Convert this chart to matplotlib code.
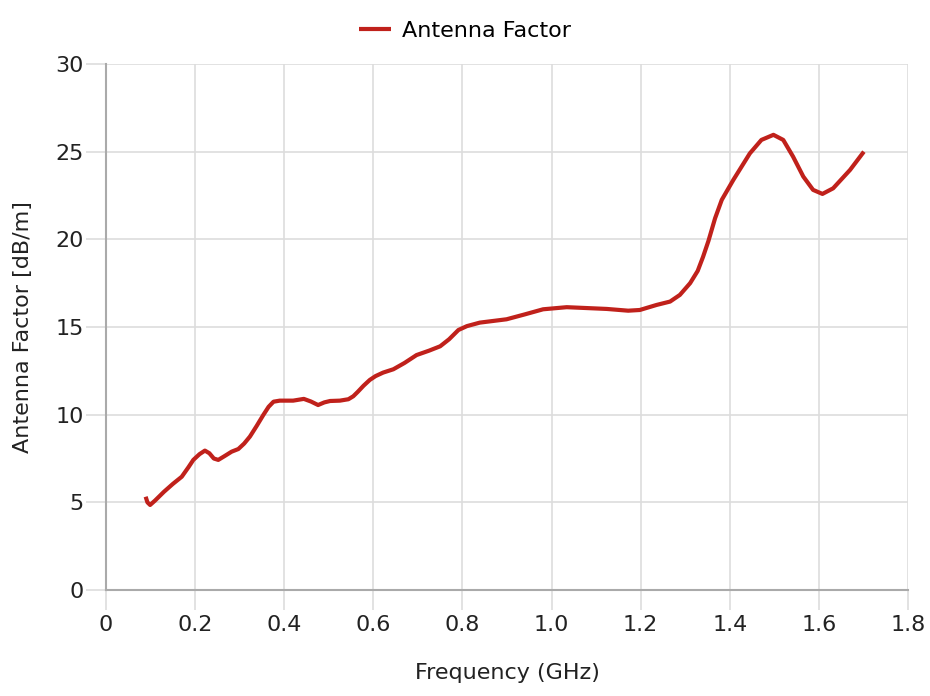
import numpy as np
import matplotlib.pyplot as plt

plt.rcParams['font.family'] = ['DejaVu Sans']

# frequency in GHz, antenna factor in dB/m
freq = [0.089, 0.093, 0.099, 0.11, 0.13, 0.15, 0.17, 0.185, 0.196, 0.21,
        0.222, 0.232, 0.242, 0.252, 0.265, 0.282, 0.297, 0.31, 0.323, 0.338,
        0.353, 0.365, 0.376, 0.39, 0.42, 0.444, 0.46, 0.476, 0.49, 0.503,
        0.525, 0.544, 0.555, 0.565, 0.578, 0.592, 0.605, 0.622, 0.645, 0.67,
        0.697, 0.725, 0.75, 0.77, 0.791, 0.81, 0.839, 0.899, 0.94, 0.981,
        1.034, 1.124, 1.172, 1.198, 1.236, 1.266, 1.288, 1.311, 1.328, 1.34,
        1.352, 1.367, 1.382, 1.408, 1.445, 1.471, 1.498, 1.52, 1.542, 1.565,
        1.587, 1.608, 1.632, 1.67, 1.701]
af = [5.32, 5.0, 4.85, 5.1, 5.6, 6.05, 6.46, 7.0, 7.42, 7.75,
      7.95, 7.8, 7.5, 7.42, 7.62, 7.89, 8.04, 8.35, 8.75, 9.35,
      9.98, 10.45, 10.74, 10.8, 10.80, 10.9, 10.75, 10.55, 10.7, 10.78,
      10.8, 10.88, 11.05, 11.3, 11.65, 11.98, 12.2, 12.4, 12.59, 12.95,
      13.4, 13.65, 13.9, 14.3, 14.83, 15.05, 15.25, 15.44, 15.72, 16.01,
      16.13, 16.03, 15.93, 15.97, 16.26, 16.45, 16.83, 17.5, 18.2, 19.0,
      19.9, 21.2, 22.25, 23.39, 24.9, 25.67, 25.96, 25.67, 24.72, 23.58,
      22.82, 22.59, 22.91, 23.96, 25.0]

xticks = [0, 0.2, 0.4, 0.6, 0.8, 1.0, 1.2, 1.4, 1.6, 1.8]
xticklabels = ['0', '0.2', '0.4', '0.6', '0.8', '1.0', '1.2', '1.4', '1.6', '1.8']
yticks = [0, 5, 10, 15, 20, 25, 30]

fig = plt.figure(figsize=(9.3, 6.96), dpi=100)
ax = fig.add_axes([106 / 930, 1 - 590 / 696, 802 / 930, 526 / 696])

ax.plot(freq, af, color='#c0211b', linewidth=3, label='Antenna Factor',
        solid_joinstyle='round', solid_capstyle='butt')

ax.set_xlim(0, 1.8)
ax.set_ylim(0, 30)
ax.set_xticks(xticks)
ax.set_xticklabels(xticklabels)
ax.set_yticks(yticks)

ax.grid(True, color='#dddddd', linewidth=1.2)
ax.set_axisbelow(True)
for s in ['top', 'right']:
    ax.spines[s].set_visible(False)
for s in ['left', 'bottom']:
    ax.spines[s].set_color('#aaaaaa')
    ax.spines[s].set_linewidth(1.5)

ax.tick_params(axis='y', length=14.4, width=1.2, color='#dddddd', labelsize=16,
               pad=1.5, labelcolor='#222222')
ax.tick_params(axis='x', length=14.4, width=1.2, color='#dddddd', labelsize=16,
               pad=3.5, labelcolor='#222222')
ax.xaxis.get_major_ticks()[0].tick1line.set_color('#aaaaaa')

ax.set_xlabel('Frequency (GHz)', fontsize=16, labelpad=20, color='#222222')
ax.set_ylabel('Antenna Factor [dB/m]', fontsize=16, labelpad=16, color='#222222')

fig.legend(*ax.get_legend_handles_labels(), loc='center',
           bbox_to_anchor=(0.5, 1 - 31 / 696), frameon=False,
           fontsize=16, handlelength=1.4, handletextpad=0.5)

fig.savefig('out.png', dpi=100)
